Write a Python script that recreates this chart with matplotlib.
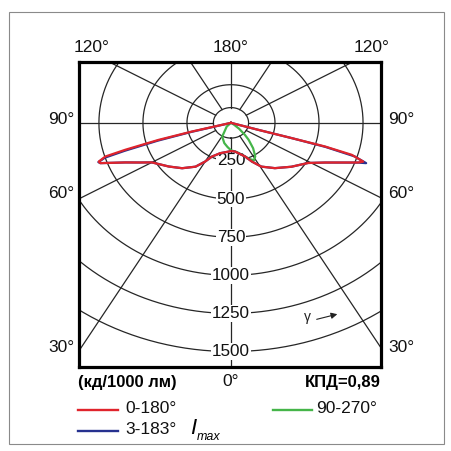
import numpy as np
import matplotlib
matplotlib.use("Agg")
import matplotlib.pyplot as plt
from matplotlib.lines import Line2D
from matplotlib.patches import Rectangle

plt.rcParams["font.family"] = ["Liberation Sans", "DejaVu Sans"]

# luminous intensity, cd per 1000 lm; negative gamma is the C180 / C270 half
red_gamma = [-77, -75.6, -74.8, -73.6, -72.8, -71.3, -70.4, -66.6, -63.3, -60, -51, -43,
             -35, -30, -26, -17, -4, 0, 7, 20, 25, 31, 40, 50, 59, 64, 70.2, 71.3, 73,
             73.8, 73.8, 73.5, 76]
red_cd = [0, 229, 426, 626, 747, 793, 788, 654, 579, 519, 455, 407,
          351, 293, 246, 208, 189, 185, 190, 235, 280, 335, 388, 448, 511, 594, 768, 793, 717,
          556, 359, 162, 0]

blue_gamma = [-77, -75.2, -74.3, -73.1, -72.3, -71.1, -70.4, -66.6, -63.3, -60, -51, -43,
              -35, -30, -26, -17, -4, 0, 7, 20, 25, 31, 40, 50, 59, 64, 70.2, 71.0, 72.6,
              73.6, 73.8, 73.5, 76]
blue_cd = [0, 232, 432, 632, 752, 796, 788, 654, 579, 519, 455, 407,
           351, 293, 246, 208, 189, 185, 190, 235, 280, 335, 388, 448, 511, 594, 770, 812, 735,
           560, 359, 162, 0]

green_gamma = [-60, -45, -29, -16, -7, 0, 10, 18, 24, 28, 32, 37, 42, 45, 50, 55, 60]
green_cd = [0, 34, 103, 138, 160, 180, 195, 225, 260, 278, 260, 209, 150, 112, 60, 20, 0]

ring_values = [250, 500, 750, 1000, 1250, 1500]
inner_ring = 100
spoke_angles = [0, 30, 60, 90, 120, 150, 180, 210, 240, 270, 300, 330]

RED = "#e0242c"
BLUE = "#26318f"
GREEN = "#45b549"
GRID = "#262626"

W = H = 451
fig = plt.figure(figsize=(W / 100, H / 100), dpi=100)


def fx(px):
    return px / W


def fy(py):
    return 1 - py / H


def to_xy(gamma, cd):
    g = np.radians(gamma)
    r = np.asarray(cd, dtype=float)
    return r * np.sin(g), -r * np.cos(g)


ax = fig.add_axes([fx(78.5), fy(366.5), (381 - 78.5) / W, (366.5 - 62.3) / H])
ax.set_xticks([])
ax.set_yticks([])
for s in ax.spines.values():
    s.set_linewidth(2.3)
    s.set_color("black")
    s.set_zorder(10)

# rings and spokes
theta = np.linspace(0, 2 * np.pi, 721)
for R in [inner_ring] + ring_values:
    ax.plot(R * np.sin(theta), -R * np.cos(theta), color=GRID, lw=0.9, zorder=1)
for a in spoke_angles:
    g = np.radians(a)
    ax.plot([inner_ring * np.sin(g), 4000 * np.sin(g)],
            [-inner_ring * np.cos(g), -4000 * np.cos(g)], color=GRID, lw=0.9, zorder=1)

for R in ring_values:
    ax.text(0, -R, str(R), ha="center", va="center", fontsize=12.3, zorder=3,
            color="#111111", bbox=dict(fc="white", ec="none", pad=0.6))

ax.plot(*to_xy(green_gamma, green_cd), color=GREEN, lw=1.6, zorder=4)
ax.plot(*to_xy(blue_gamma, blue_cd), color=BLUE, lw=1.6, zorder=5)
ax.plot(*to_xy(red_gamma, red_cd), color=RED, lw=1.6, zorder=6)

ax.set_xlim(-866, 852)
ax.set_ylim(-1598, 397)

# gamma direction mark
fig.text(fx(307), fy(317), "γ", fontsize=10, ha="center", va="center", color="#222222")
ax.annotate("", xy=(fx(340), fy(313.5)), xytext=(fx(314), fy(320)),
            xycoords="figure fraction", textcoords="figure fraction",
            arrowprops=dict(arrowstyle="-|>", color="#222222", lw=0.8, mutation_scale=9))

# angle labels around the frame
angle_labels = [("120°", 91.5, 48), ("180°", 231, 48), ("120°", 371.5, 48),
                ("90°", 61, 120), ("90°", 401, 120), ("60°", 61, 193), ("60°", 401, 193),
                ("30°", 61, 347), ("30°", 401, 347), ("0°", 231, 381)]
for txt, px, py in angle_labels:
    fig.text(fx(px), fy(py), txt, fontsize=12.5, ha="center", va="center", color="#111111")

fig.text(fx(78), fy(382), "(кд/1000 лм)", fontsize=12, fontweight="bold",
         ha="left", va="center")
fig.text(fx(381), fy(382), "КПД=0,89", fontsize=12, fontweight="bold",
         ha="right", va="center")

# legend
legend_rows = [(RED, 78, 118, 409.5, "0-180°", 125),
               (GREEN, 273, 312, 409.5, "90-270°", 316),
               (BLUE, 78, 118, 430.5, "3-183°", 125)]
for col, x0, x1, py, label, tx in legend_rows:
    fig.add_artist(Line2D([fx(x0), fx(x1)], [fy(py), fy(py)], color=col, lw=1.7,
                          transform=fig.transFigure))
    fig.text(fx(tx), fy(py - 1), label, fontsize=12.5, ha="left", va="center",
             color="#111111")
fig.text(fx(190), fy(428), "I", fontsize=16, style="italic", ha="left", va="center")
fig.text(fx(197), fy(437), "max", fontsize=9, style="italic", ha="left", va="center")

# outer frame
fig.add_artist(Rectangle((fx(8.5), fy(444)), (443.5 - 8.5) / W, (444 - 12) / H,
                         transform=fig.transFigure, fill=False, ec="#8a8a8a", lw=0.8))

fig.savefig("out.png", dpi=100)
